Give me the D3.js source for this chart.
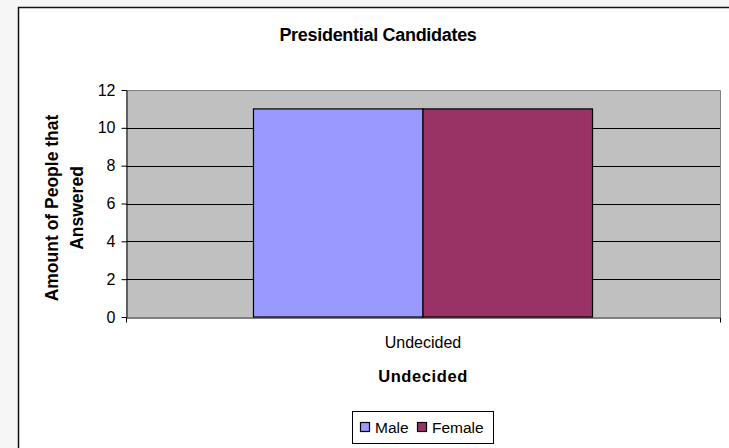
<!DOCTYPE html>
<html>
<head>
<meta charset="utf-8">
<script src="https://cdn.jsdelivr.net/npm/d3@7"></script>
<style>
	body { margin: 0; background: #f6f6f6; }
	svg { display: block; font-family: "Liberation Sans", Arial, sans-serif; }
</style>
</head>
<body>
<div id="chart"></div>
<script>
// ---------- DATA ----------
const categories = ["Undecided"];
const seriesNames = ["Male", "Female"];
const maleValues = [11];
const femaleValues = [11];
const yTicks = [0, 2, 4, 6, 8, 10, 12];

const colorDef = {
	male: "#9999FF",
	female: "#993366",
	plotBg: "#C0C0C0",
};

const size = { w: 729, h: 448 };
const plot = { left: 126, right: 720, top: 90, bottom: 317 };

const svg = d3
	.select("#chart")
	.append("svg")
	.attr("width", size.w)
	.attr("height", size.h);

// chart area frame (runs off the right and bottom edge)
svg.append("rect")
	.attr("x", 18.5)
	.attr("y", 7.5)
	.attr("width", size.w)
	.attr("height", size.h)
	.attr("fill", "#fff")
	.attr("stroke", "#111")
	.attr("stroke-width", 1.5);

// scales
const x = d3
	.scaleBand()
	.domain(categories)
	.range([plot.left, plot.right])
	.paddingInner(0)
	.paddingOuter(0.376);

const xSeries = d3
	.scaleBand()
	.domain(seriesNames)
	.range([0, x.bandwidth()]);

const y = d3
	.scaleLinear()
	.domain([0, 12])
	.range([plot.bottom, plot.top]);

const color = d3.scaleOrdinal().domain(seriesNames).range([colorDef.male, colorDef.female]);

// plot background
svg.append("rect")
	.attr("x", plot.left)
	.attr("y", plot.top)
	.attr("width", plot.right - plot.left)
	.attr("height", plot.bottom - plot.top)
	.attr("fill", colorDef.plotBg);

// gridlines
svg.append("g")
	.selectAll("line")
	.data(yTicks.filter((d) => d > 0 && d < 12))
	.enter()
	.append("line")
	.attr("x1", plot.left)
	.attr("x2", plot.right)
	.attr("y1", (d) => Math.round(y(d)) + 0.5)
	.attr("y2", (d) => Math.round(y(d)) + 0.5)
	.attr("stroke", "#000")
	.attr("stroke-width", 1);

// top + right border of the plot
svg.append("path")
	.attr("d", `M${plot.left},${plot.top + 0.5}H${plot.right + 0.5}V${plot.bottom}`)
	.attr("fill", "none")
	.attr("stroke", "#808080")
	.attr("stroke-width", 1);

// bars
const rows = categories.map((c, i) => ({
	category: c,
	values: [
		{ name: "Male", value: maleValues[i] },
		{ name: "Female", value: femaleValues[i] },
	],
}));

svg.append("g")
	.selectAll("g")
	.data(rows)
	.enter()
	.append("g")
	.attr("transform", (d) => `translate(${x(d.category)},0)`)
	.selectAll("rect")
	.data((d) => d.values)
	.enter()
	.append("rect")
	.attr("x", (d) => xSeries(d.name))
	.attr("y", (d) => y(d.value))
	.attr("width", xSeries.bandwidth())
	.attr("height", (d) => y(0) - y(d.value))
	.attr("fill", (d) => color(d.name))
	.attr("stroke", "#000")
	.attr("stroke-width", 1.2);

// y axis
const yAxis = svg.append("g")
	.attr("transform", `translate(${plot.left + 0.5},0)`)
	.call(d3.axisLeft(y).tickValues(yTicks).tickSize(5).tickPadding(6).tickSizeOuter(0));
yAxis.select(".domain").attr("stroke", "#000");
yAxis.selectAll(".tick line").attr("stroke", "#000");
yAxis.selectAll("text")
	.attr("font-size", 16)
	.attr("fill", "#000")
	.style("font-family", "Liberation Sans, Arial, sans-serif");

// x axis
const xAxis = svg.append("g")
	.attr("transform", `translate(0,${plot.bottom + 0.5})`)
	.call(d3.axisBottom(x).tickSize(0).tickPadding(19));
xAxis.select(".domain").attr("stroke", "#000");
xAxis.selectAll("text")
	.attr("font-size", 16)
	.attr("fill", "#000")
	.style("font-family", "Liberation Sans, Arial, sans-serif");
// category boundary ticks
xAxis.selectAll(".edge")
	.data([plot.left + 0.5, plot.right + 0.5])
	.enter()
	.append("line")
	.classed("edge", true)
	.attr("x1", (d) => d)
	.attr("x2", (d) => d)
	.attr("y1", 0)
	.attr("y2", 5)
	.attr("stroke", "#000");

// titles
svg.append("text")
	.attr("x", 378)
	.attr("y", 41)
	.attr("text-anchor", "middle")
	.attr("font-size", 18)
	.attr("font-weight", "bold")
	.attr("letter-spacing", -0.3)
	.text("Presidential Candidates");

svg.append("text")
	.attr("x", 423)
	.attr("y", 382)
	.attr("text-anchor", "middle")
	.attr("font-size", 16.5)
	.attr("font-weight", "bold")
	.attr("letter-spacing", 0.6)
	.text("Undecided");

const yTitle = svg.append("text")
	.attr("transform", "translate(0,208) rotate(-90)")
	.attr("text-anchor", "middle")
	.attr("font-size", 17.5)
	.attr("font-weight", "bold");
yTitle.append("tspan").attr("x", 0).attr("y", 52).attr("dominant-baseline", "central").text("Amount of People that");
yTitle.append("tspan").attr("x", 0).attr("y", 76.5).attr("dominant-baseline", "central").text("Answered");

// legend
const legend = svg.append("g");
legend.append("rect")
	.attr("x", 352.5)
	.attr("y", 411.5)
	.attr("width", 141)
	.attr("height", 32)
	.attr("fill", "#fff")
	.attr("stroke", "#000")
	.attr("stroke-width", 1);

const legendX = d3.scaleOrdinal().domain(seriesNames).range([360, 417]);
const item = legend.selectAll(".item")
	.data(seriesNames)
	.enter()
	.append("g")
	.classed("item", true)
	.attr("transform", (d) => `translate(${legendX(d)},427)`);
item.append("rect")
	.attr("x", 0.5)
	.attr("y", -4.5)
	.attr("width", 9)
	.attr("height", 9)
	.attr("fill", (d) => color(d))
	.attr("stroke", "#000")
	.attr("stroke-width", 1.2);
item.append("text")
	.attr("x", 15)
	.attr("y", 0)
	.attr("dominant-baseline", "central")
	.attr("font-size", 15.5)
	.text((d) => d);
</script>
</body>
</html>
